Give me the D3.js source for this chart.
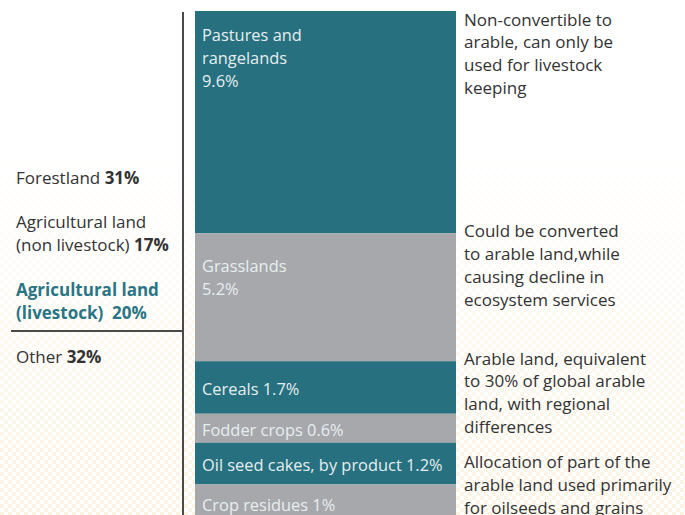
<!DOCTYPE html>
<html>
<head>
<meta charset="utf-8">
<script src="https://cdn.jsdelivr.net/npm/d3@7"></script>
<style>
  body { margin: 0; background: #fff; }
  svg { display: block; font-family: "Open Sans", "Noto Sans", sans-serif; }
</style>
</head>
<body>
<svg id="chart" width="685" height="515"></svg>
<script>
// land use shares, % of global land
const landCategories = ["Forestland", "Agricultural land (non livestock)", "Agricultural land (livestock)", "Other"];
const landShares = [31, 17, 20, 32];

// breakdown of the livestock share
const feedNames = ["Pastures and rangelands", "Grasslands", "Cereals", "Fodder crops", "Oil seed cakes, by product", "Crop residues"];
const feedShares = [9.6, 5.2, 1.7, 0.6, 1.2, 1];
const feedKinds = ["dark", "light", "dark", "light", "dark", "light"];

// notes at the right, each one covering a run of feed rows
const noteTexts = [
  ["Non-convertible to", "arable, can only be", "used for livestock", "keeping"],
  ["Could be converted", "to arable land,while", "causing decline in", "ecosystem services"],
  ["Arable land, equivalent", "to 30% of global arable", "land, with regional", "differences"],
  ["Allocation of part of the", "arable land used primarily", "for oilseeds and grains"]
];
const noteFirstRow = [0, 1, 2, 4];

const svg = d3.select("#chart");
const teal = "#26707f", grey = "#a7a8ac", ink = "#333";

// faint cream checker in the background, stronger toward the bottom
const defs = svg.append("defs");
const pat = defs.append("pattern").attr("id", "chk")
  .attr("width", 8).attr("height", 8).attr("patternUnits", "userSpaceOnUse");
pat.append("rect").attr("width", 4).attr("height", 4).attr("fill", "#fbf3e2");
pat.append("rect").attr("x", 4).attr("y", 4).attr("width", 4).attr("height", 4).attr("fill", "#fbf3e2");
const grad = defs.append("linearGradient").attr("id", "fade").attr("x1", 0).attr("y1", 0).attr("x2", 0).attr("y2", 1);
grad.append("stop").attr("offset", "0.3").attr("stop-color", "#fff").attr("stop-opacity", 0);
grad.append("stop").attr("offset", "1").attr("stop-color", "#fff").attr("stop-opacity", 1);
const mask = defs.append("mask").attr("id", "m");
mask.append("rect").attr("width", 685).attr("height", 515).attr("fill", "url(#fade)");
svg.append("rect").attr("width", 685).attr("height", 515).attr("fill", "url(#chk)").attr("mask", "url(#m)");

// row heights: linear in the share, with a floor so the small rows keep room for a label
const hScale = d3.scaleLinear().domain([0, 9.6]).range([16, 222.4]);
const barX = 195, barW = 261, barTop = 11;
const rows = [];
let yy = barTop;
feedShares.forEach((v, i) => {
  rows.push({ name: feedNames[i], value: v, kind: feedKinds[i], y: yy, h: hScale(v) });
  yy += hScale(v);
});

const bars = svg.append("g");
bars.selectAll("rect").data(rows).join("rect")
  .attr("x", barX).attr("y", d => d.y)
  .attr("width", barW).attr("height", d => d.h)
  .attr("fill", d => d.kind === "dark" ? teal : grey);

// labels inside the bars
const labelLines = d => {
  if (d.name === "Pastures and rangelands") return ["Pastures and", "rangelands", d.value + "%"];
  if (d.name === "Grasslands") return ["Grasslands", d.value + "%"];
  return [d.name + " " + d.value + "%"];
};
bars.selectAll("text").data(rows).join("text")
  .attr("x", barX + 7)
  .attr("fill", "#e6eef0")
  .attr("font-size", 16.4)
  .each(function (d) {
    const lines = labelLines(d);
    let y0;
    if (lines.length === 3) y0 = d.y + 26;
    else if (lines.length === 2) y0 = d.y + d.h / 2 - 30;
    else y0 = d.y + d.h / 2 + 3;
    d3.select(this).selectAll("tspan").data(lines).join("tspan")
      .attr("x", barX + 7)
      .attr("y", (l, j) => y0 + j * 23)
      .attr("dominant-baseline", "middle")
      .text(l => l);
  });

// notes
const noteOffsets = [10, -0.5, -1, 21];
const notes = svg.append("g");
noteTexts.forEach((lines, i) => {
  const y0 = rows[noteFirstRow[i]].y + noteOffsets[i];
  notes.append("text")
    .attr("fill", ink).attr("font-size", 17)
    .selectAll("tspan").data(lines).join("tspan")
    .attr("x", 464)
    .attr("y", (l, j) => y0 + j * 22.7)
    .attr("dominant-baseline", "middle")
    .text(l => l);
});

// left axis line and divider
svg.append("line").attr("x1", 183).attr("x2", 183).attr("y1", 12).attr("y2", 515)
  .attr("stroke", "#4a4a4a").attr("stroke-width", 2);
svg.append("line").attr("x1", 11).attr("x2", 183).attr("y1", 331).attr("y2", 331)
  .attr("stroke", "#4a4a4a").attr("stroke-width", 2);

// left labels
const leftRows = [
  { parts: [["Forestland ", "n"], [landShares[0] + "%", "b"]], y: 179, c: ink },
  { parts: [["Agricultural land", "n"]], y: 223, c: ink },
  { parts: [["(non livestock) ", "n"], [landShares[1] + "%", "b"]], y: 246, c: ink },
  { parts: [["Agricultural land", "b"]], y: 291, c: "#2a7584" },
  { parts: [["(livestock)  " + landShares[2] + "%", "b"]], y: 314, c: "#2a7584" },
  { parts: [["Other ", "n"], [landShares[3] + "%", "b"]], y: 358, c: ink }
];
const left = svg.append("g");
leftRows.forEach(r => {
  const t = left.append("text").attr("x", 16).attr("y", r.y)
    .attr("dominant-baseline", "middle").attr("font-size", 17).attr("fill", r.c)
    .style("white-space", "pre");
  r.parts.forEach(p => t.append("tspan").attr("font-weight", p[1] === "b" ? 700 : 400).text(p[0]));
});
</script>
</body>
</html>
